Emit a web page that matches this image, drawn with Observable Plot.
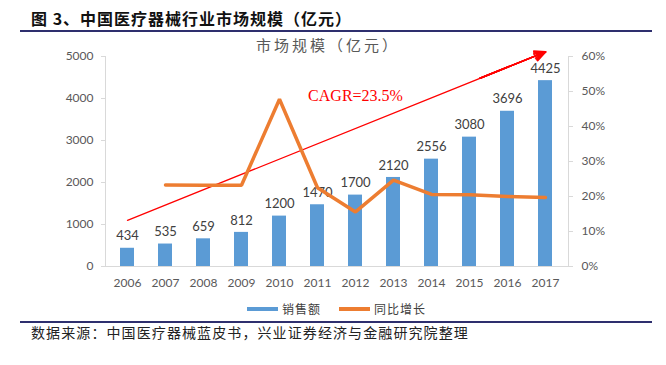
<!DOCTYPE html>
<html>
<head>
<meta charset="utf-8">
<script src="https://cdn.jsdelivr.net/npm/d3@7"></script>
<script src="https://cdn.jsdelivr.net/npm/@observablehq/plot@0.6"></script>
<style>
  body { margin: 0; background: #fff; }
  #wrap { position: relative; width: 666px; height: 365px; overflow: hidden; background: #fff; font-family: "Noto Sans CJK SC", sans-serif; }
  .abs { position: absolute; white-space: nowrap; }
  #title { left: 31px; top: 6px; font-size: 16px; font-weight: bold; color: #111; letter-spacing: 1px; }
  .hline { position: absolute; left: 20px; width: 632px; height: 2px; background: #2e2f6e; }
  #ctitle { left: 256px; top: 34px; font-size: 15px; color: #595959; letter-spacing: 3px; }
  #chart { position: absolute; left: 0; top: 40px; }
  #legend { left: 247px; top: 300px; font-size: 12px; color: #404040; display: flex; align-items: center; letter-spacing: 1px; }
  .sw { display: inline-block; width: 31px; height: 4px; margin-right: 4px; }
  #caption { left: 31px; top: 322px; font-size: 14px; color: #222; letter-spacing: 1.1px; }
</style>
</head>
<body>
<div id="wrap">
  <div id="title" class="abs">图 3、中国医疗器械行业市场规模（亿元）</div>
  <div class="hline" style="top:30px"></div>
  <div id="ctitle" class="abs">市场规模（亿元）</div>
  <div id="chart"></div>
  <div id="legend" class="abs">
    <span class="sw" style="background:#5B9BD5"></span><span style="margin-right:18px">销售额</span>
    <span class="sw" style="background:#ED7D31"></span><span>同比增长</span>
  </div>
  <div class="hline" style="top:321px"></div>
  <div id="caption" class="abs">数据来源：中国医疗器械蓝皮书，兴业证券经济与金融研究院整理</div>
</div>
<script>
const years = ["2006","2007","2008","2009","2010","2011","2012","2013","2014","2015","2016","2017"];
const sales = [434, 535, 659, 812, 1200, 1470, 1700, 2120, 2556, 3080, 3696, 4425];
const growthYears = ["2007","2008","2009","2010","2011","2012","2013","2014","2015","2016","2017"];
const growthPct = [23.3, 23.2, 23.2, 47.8, 22.5, 15.6, 24.7, 20.6, 20.5, 20.0, 19.7];
const leftTicks = [0, 1000, 2000, 3000, 4000, 5000];
const rightTicks = [0, 10, 20, 30, 40, 50, 60];
const trendYears = ["2006", "2017"];
const trendValues = [1100, 5110];
const cagrLabel = "CAGR=23.5%";
const cagrYear = "2012";
const cagrValue = 4070;

const yMax = 5000, pMax = 60;
const toLeft = p => p * yMax / pMax;

const salesData = years.map((y, i) => ({year: y, value: sales[i]}));
const growthData = growthYears.map((y, i) => ({year: y, v: toLeft(growthPct[i])}));
// several heads with growing angles so the arrowhead reads as a filled triangle
const headAngles = [8, 20, 32, 44, 52];
const trend = headAngles.map(a => ({x1: trendYears[0], y1: trendValues[0], x2: trendYears[1], y2: trendValues[1], a}));

const axisColor = "#d9d9d9";
const marksList = [
  Plot.frame({anchor: "left", stroke: axisColor}),
  Plot.frame({anchor: "right", stroke: axisColor}),
  Plot.ruleY([0], {stroke: axisColor}),
  Plot.axisY({anchor: "left", ticks: leftTicks, tickFormat: d => String(d), tickSize: 4, tickPadding: 8, stroke: axisColor, fill: "#595959", label: null}),
  Plot.axisY({anchor: "right", ticks: rightTicks.map(toLeft), tickFormat: d => Math.round(d * pMax / yMax) + "%", tickSize: 4, tickPadding: 9, stroke: axisColor, fill: "#595959", label: null}),
  Plot.axisX({anchor: "bottom", tickSize: 0, tickPadding: 12, fill: "#595959", label: null}),
  Plot.barY(salesData, {x: "year", y: "value", fill: "#5B9BD5"}),
  Plot.text(salesData, {x: "year", y: "value", text: d => String(d.value), dy: -12, fill: "#404040", fontSize: 13})
];
trend.forEach((t, i) => {
  marksList.push(Plot.arrow([t], {x1: "x1", y1: "y1", x2: "x2", y2: "y2", stroke: "#ff0000", strokeWidth: i === 0 ? 1.3 : 1.6, strokeOpacity: i === 0 ? 1 : 0.999, headLength: 11, headAngle: t.a, bend: 0, insetStart: i === 0 ? 0 : 380}));
});
marksList.push(
  Plot.line(growthData, {x: "year", y: "v", stroke: "#ED7D31", strokeWidth: 3.5, strokeLinejoin: "miter", curve: "linear"}),
  Plot.text([cagrLabel], {x: () => cagrYear, y: () => cagrValue, text: d => d, fill: "#ff0000", fontSize: 16, fontFamily: "Liberation Serif, serif"})
);

const chart = Plot.plot({
  width: 666,
  height: 260,
  marginTop: 16,
  marginBottom: 34,
  marginLeft: 105,
  marginRight: 98,
  style: {fontFamily: "Lato, sans-serif", fontSize: "12px", color: "#595959", background: "transparent"},
  x: {type: "band", domain: years, paddingInner: 0.62, paddingOuter: 0.31, label: null},
  y: {domain: [0, yMax], label: null},
  marks: marksList
});
document.getElementById("chart").appendChild(chart);
</script>
</body>
</html>
